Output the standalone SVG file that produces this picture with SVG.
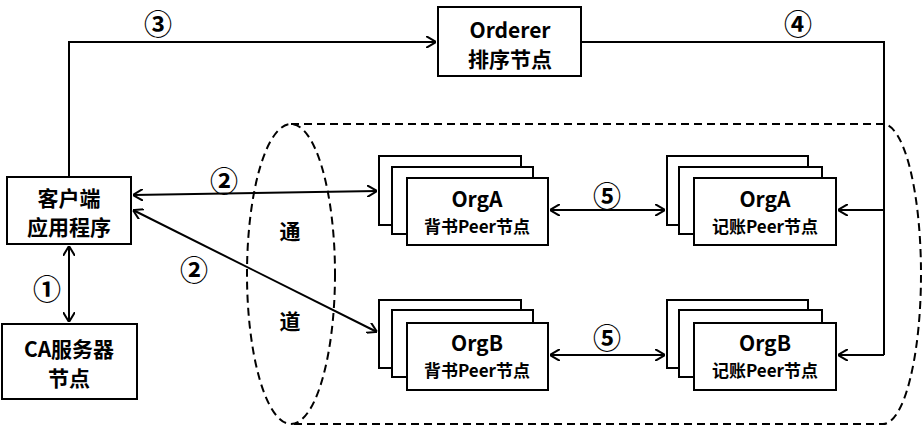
<svg xmlns="http://www.w3.org/2000/svg" width="923" height="428" viewBox="0 0 923 428">
<defs>
<style>
.box{fill:#fff;stroke:#000;stroke-width:2}
.ln{fill:none;stroke:#000;stroke-width:2}
.dash{fill:none;stroke:#000;stroke-width:2;stroke-dasharray:8 5}
text{font-family:"Noto Sans CJK SC","Liberation Sans",sans-serif;font-weight:bold;fill:#000;text-anchor:middle;dominant-baseline:central}
.t1{font-size:21px}
.t2{font-size:17px}
.num{font-size:28px}
</style>
<marker id="ah" viewBox="0 0 10 12" refX="10" refY="6" markerWidth="10" markerHeight="12" markerUnits="userSpaceOnUse" orient="auto-start-reverse">
<path d="M0,0 L10,6 L0,12" fill="none" stroke="#000" stroke-width="2"/>
</marker>
</defs>
<rect width="923" height="428" fill="#fff"/>

<g id="channel">
<ellipse class="dash" cx="291" cy="274" rx="44" ry="150"/>
<path class="dash" d="M291,124 L883,124 A38,150 0 0 1 883,424 L291,424"/>
<text class="t1" x="290" y="230">通</text>
<text class="t1" x="290" y="320">道</text>
</g>

<g id="connectors">
<path class="ln" d="M69,177 L69,42 L436,42" marker-end="url(#ah)"/>
<path class="ln" d="M581,42 L884,42 L884,355"/>
<path class="ln" d="M884,210 L838,210" marker-end="url(#ah)"/>
<path class="ln" d="M884,355 L838,355" marker-end="url(#ah)"/>
<path class="ln" d="M69,246 L69,322" marker-start="url(#ah)" marker-end="url(#ah)"/>
<path class="ln" d="M133,195 L377,191" marker-start="url(#ah)" marker-end="url(#ah)"/>
<path class="ln" d="M133,210 L377,332" marker-start="url(#ah)" marker-end="url(#ah)"/>
<path class="ln" d="M550,210 L665,210" marker-start="url(#ah)" marker-end="url(#ah)"/>
<path class="ln" d="M550,355 L665,355" marker-start="url(#ah)" marker-end="url(#ah)"/>
<text class="num" x="158" y="23">③</text>
<text class="num" x="798" y="23">④</text>
<text class="num" x="47" y="288">①</text>
<text class="num" x="224" y="180">②</text>
<text class="num" x="194" y="269">②</text>
<text class="num" x="607" y="195">⑤</text>
<text class="num" x="607" y="337">⑤</text>
</g>

<g id="orderer">
<rect class="box" x="438" y="7" width="143" height="69"/>
<text class="t1" x="510" y="29">Orderer</text>
<text class="t1" x="510" y="58">排序节点</text>
</g>

<g id="client">
<rect class="box" x="7" y="177" width="124" height="67"/>
<text class="t1" x="69" y="197">客户端</text>
<text class="t1" x="69" y="226">应用程序</text>
</g>

<g id="ca">
<rect class="box" x="2" y="324" width="135" height="75"/>
<text class="t1" x="69" y="348">CA服务器</text>
<text class="t1" x="69" y="377">节点</text>
</g>

<g id="orgA-endorser">
<rect class="box" x="379" y="156" width="142" height="69"/>
<rect class="box" x="392" y="167" width="141" height="67"/>
<rect class="box" x="407" y="178" width="141" height="67"/>
<text class="t1" x="477" y="198">OrgA</text>
<text class="t2" x="477" y="225">背书Peer节点</text>
</g>

<g id="orgA-committer">
<rect class="box" x="667" y="156" width="141" height="69"/>
<rect class="box" x="679" y="167" width="143" height="67"/>
<rect class="box" x="694" y="178" width="142" height="67"/>
<text class="t1" x="765" y="198">OrgA</text>
<text class="t2" x="765" y="225">记账Peer节点</text>
</g>

<g id="orgB-endorser">
<rect class="box" x="379" y="300" width="142" height="68"/>
<rect class="box" x="392" y="310" width="141" height="67"/>
<rect class="box" x="407" y="323" width="141" height="67"/>
<text class="t1" x="477" y="342">OrgB</text>
<text class="t2" x="477" y="369">背书Peer节点</text>
</g>

<g id="orgB-committer">
<rect class="box" x="667" y="300" width="141" height="68"/>
<rect class="box" x="679" y="310" width="143" height="67"/>
<rect class="box" x="694" y="323" width="142" height="67"/>
<text class="t1" x="765" y="342">OrgB</text>
<text class="t2" x="765" y="369">记账Peer节点</text>
</g>
</svg>
